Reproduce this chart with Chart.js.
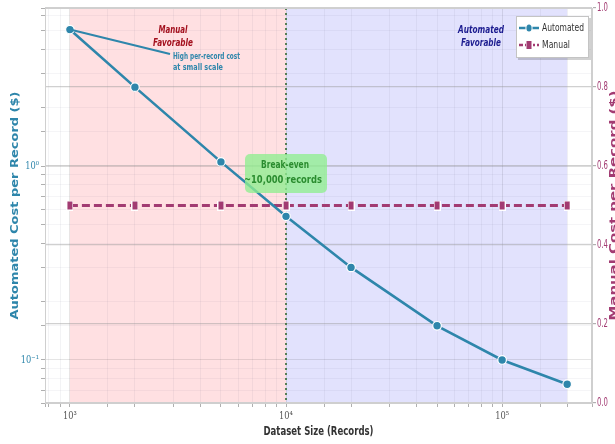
<!DOCTYPE html>
<html>
<head>
<meta charset="utf-8">
<script src="https://cdn.jsdelivr.net/npm/chart.js@4.4.1/dist/chart.umd.min.js"></script>
<style>
  html, body { margin: 0; padding: 0; background: #ffffff; }
  #wrap { width: 615px; height: 444px; }
</style>
</head>
<body>
<div id="wrap"><canvas id="chart" width="615" height="444"></canvas></div>
<script>
// Cost per record for automated vs manual processing across dataset sizes
const datasetSizes  = [1000, 2000, 5000, 10000, 20000, 50000, 100000, 200000];
const automatedCost = [5.05, 2.55, 1.05, 0.55, 0.30, 0.15, 0.10, 0.075];
const manualCost    = [0.5, 0.5, 0.5, 0.5, 0.5, 0.5, 0.5, 0.5];
const breakEvenSize = 10000;
const xTickValues   = [1000, 10000, 100000];
const xTickLabels   = ['10³', '10⁴', '10⁵'];
const yTickValues   = [1, 0.1];
const yTickLabels   = ['10⁰', '10⁻¹'];
const rightTicks    = [0.0, 0.2, 0.4, 0.6, 0.8, 1.0];

const AUTO = '#2E86AB';
const MANUAL = '#A23B72';

function isPower(v) {
  const l = Math.log10(v);
  return Math.abs(l - Math.round(l)) < 1e-6;
}

// draws text scaled horizontally by sx (or to a target width when width is given)
function drawText(ctx, text, x, y, o) {
  ctx.save();
  ctx.font = o.font;
  ctx.fillStyle = o.color;
  ctx.textBaseline = 'middle';
  ctx.textAlign = o.align || 'center';
  const w = ctx.measureText(text).width;
  const sx = o.width ? o.width / w : (o.sx || 1);
  ctx.translate(x, y);
  if (o.rot) ctx.rotate(o.rot);
  ctx.scale(sx, o.sy || 1);
  ctx.fillText(text, 0, 0);
  ctx.restore();
}

// square marker for the manual series
const squareMark = document.createElement('canvas');
squareMark.width = 7; squareMark.height = 10;
(function () {
  const g = squareMark.getContext('2d');
  g.fillStyle = '#ffffff';
  g.fillRect(0, 0, 7, 10);
  g.fillStyle = MANUAL;
  g.fillRect(1, 1, 5, 8);
})();

const decorPlugin = {
  id: 'decor',
  beforeDraw(chart) {
    const { ctx, chartArea: a, scales } = chart;
    const x = scales.x;
    const x0 = x.getPixelForValue(datasetSizes[0]);
    const xb = x.getPixelForValue(breakEvenSize);
    const x1 = x.getPixelForValue(datasetSizes[datasetSizes.length - 1]);
    ctx.save();
    ctx.fillStyle = 'rgb(255,224,226)';
    ctx.fillRect(x0, a.top, xb - x0, a.bottom - a.top);
    ctx.fillStyle = 'rgb(226,226,253)';
    ctx.fillRect(xb, a.top, x1 - xb, a.bottom - a.top);
    ctx.restore();
  },
  beforeDatasetsDraw(chart) {
    const { ctx, chartArea: a, scales } = chart;
    const xb = scales.x.getPixelForValue(breakEvenSize);
    ctx.save();
    ctx.strokeStyle = 'rgba(60,110,60,0.85)';
    ctx.lineWidth = 2;
    ctx.setLineDash([2, 3]);
    ctx.beginPath();
    ctx.moveTo(xb, a.top);
    ctx.lineTo(xb, a.bottom);
    ctx.stroke();
    ctx.restore();
  },
  afterDatasetsDraw(chart) {
    const { ctx, chartArea: a, scales } = chart;
    const x = scales.x, y = scales.y;
    const xb = x.getPixelForValue(breakEvenSize);

    // frame
    ctx.save();
    ctx.strokeStyle = '#cfcfcf';
    ctx.lineWidth = 1;
    ctx.strokeRect(a.left + 0.5, a.top + 0.5, a.right - a.left - 1, a.bottom - a.top - 1);
    ctx.restore();

    // callout pointing at the smallest dataset
    const px = x.getPixelForValue(datasetSizes[0]);
    const py = y.getPixelForValue(automatedCost[0]);
    ctx.save();
    ctx.strokeStyle = AUTO;
    ctx.lineWidth = 2;
    ctx.beginPath();
    ctx.moveTo(a.left + 125, a.top + 46);
    ctx.lineTo(px, py);
    ctx.stroke();
    ctx.restore();
    drawText(ctx, 'High per-record cost', a.left + 128, a.top + 49, { font: '600 9px "DejaVu Sans"', color: AUTO, width: 67, align: 'left' });
    drawText(ctx, 'at small scale', a.left + 128, a.top + 60, { font: '600 9px "DejaVu Sans"', color: AUTO, width: 50, align: 'left' });

    // region captions
    const cap = 'italic bold 11px "DejaVu Sans"';
    drawText(ctx, 'Manual', a.left + 128, a.top + 22, { font: cap, color: '#a3101e', width: 29 });
    drawText(ctx, 'Favorable', a.left + 128, a.top + 35, { font: cap, color: '#a3101e', width: 40 });
    drawText(ctx, 'Automated', a.left + 436, a.top + 22, { font: cap, color: '#1c1c90', width: 46 });
    drawText(ctx, 'Favorable', a.left + 436, a.top + 35, { font: cap, color: '#1c1c90', width: 40 });

    // break-even box
    const bx = xb - 41, by = a.top + 146, bw = 82, bh = 39;
    ctx.save();
    ctx.fillStyle = 'rgba(144,238,144,0.78)';
    ctx.beginPath();
    ctx.roundRect(bx, by, bw, bh, 5);
    ctx.fill();
    ctx.restore();
    drawText(ctx, 'Break-even', xb - 1, by + 11, { font: 'bold 11px "DejaVu Sans"', color: '#2a8c2f', width: 48 });
    drawText(ctx, '~10,000 records', xb - 3, by + 26, { font: 'bold 11px "DejaVu Sans"', color: '#2a8c2f', width: 78 });

    // legend
    const lx = 516, ly = 16, lw = 73, lh = 42;
    ctx.save();
    ctx.fillStyle = 'rgba(0,0,0,0.18)';
    ctx.fillRect(lx + 2, ly + 2, lw, lh);
    ctx.fillStyle = '#ffffff';
    ctx.strokeStyle = '#c4c4c4';
    ctx.lineWidth = 1;
    ctx.fillRect(lx, ly, lw, lh);
    ctx.strokeRect(lx + 0.5, ly + 0.5, lw - 1, lh - 1);
    ctx.strokeStyle = AUTO;
    ctx.lineWidth = 2.5;
    ctx.beginPath(); ctx.moveTo(lx + 3, ly + 12); ctx.lineTo(lx + 23, ly + 12); ctx.stroke();
    ctx.fillStyle = '#ffffff';
    ctx.beginPath(); ctx.ellipse(lx + 13, ly + 12, 3.6, 4.6, 0, 0, Math.PI * 2); ctx.fill();
    ctx.fillStyle = AUTO;
    ctx.beginPath(); ctx.ellipse(lx + 13, ly + 12, 2.6, 3.6, 0, 0, Math.PI * 2); ctx.fill();
    ctx.strokeStyle = MANUAL;
    ctx.setLineDash([4, 2]);
    ctx.beginPath(); ctx.moveTo(lx + 3, ly + 29); ctx.lineTo(lx + 23, ly + 29); ctx.stroke();
    ctx.setLineDash([]);
    ctx.drawImage(squareMark, lx + 13 - 3.5, ly + 29 - 5);
    ctx.restore();
    drawText(ctx, 'Automated', lx + 26, ly + 12, { font: '10px "DejaVu Sans"', color: '#333333', width: 42, align: 'left' });
    drawText(ctx, 'Manual', lx + 26, ly + 29, { font: '10px "DejaVu Sans"', color: '#333333', width: 28, align: 'left' });
  },
  afterDraw(chart) {
    const { ctx, chartArea: a, scales } = chart;

    // tick labels, placed through the scales
    const tf = '11.5px "DejaVu Serif", serif';
    xTickValues.forEach((v, i) => {
      drawText(ctx, xTickLabels[i], scales.x.getPixelForValue(v), a.bottom + 13, { font: tf, color: '#555555', sx: 0.72 });
    });
    yTickValues.forEach((v, i) => {
      drawText(ctx, yTickLabels[i], a.left - 6, scales.y.getPixelForValue(v), { font: tf, color: AUTO, sx: 0.72, align: 'right' });
    });
    rightTicks.forEach(v => {
      drawText(ctx, v.toFixed(1), a.right + 5, scales.y1.getPixelForValue(v), { font: '11.5px "DejaVu Sans"', color: MANUAL, sx: 0.6, align: 'left' });
    });

    // axis titles
    const cy = (a.top + a.bottom) / 2;
    drawText(ctx, 'Automated Cost per Record ($)', 15, cy, { font: 'bold 12px "DejaVu Sans"', color: AUTO, width: 228, sy: 0.85, rot: -Math.PI / 2 });
    drawText(ctx, 'Manual Cost per Record ($)', 614, cy, { font: 'bold 12px "DejaVu Sans"', color: MANUAL, width: 230, sy: 0.85, rot: -Math.PI / 2 });
    drawText(ctx, 'Dataset Size (Records)', (a.left + a.right) / 2, 432, { font: 'bold 12px "DejaVu Sans"', color: '#333333', width: 110 });
  }
};

new Chart(document.getElementById('chart'), {
  type: 'line',
  data: {
    datasets: [
      {
        label: 'Automated',
        data: datasetSizes.map((s, i) => ({ x: s, y: automatedCost[i] })),
        yAxisID: 'y',
        borderColor: AUTO,
        borderWidth: 2.6,
        pointRadius: 4.3,
        pointBackgroundColor: AUTO,
        pointBorderColor: '#ffffff',
        pointBorderWidth: 1.2,
        tension: 0
      },
      {
        label: 'Manual',
        data: datasetSizes.map((s, i) => ({ x: s, y: manualCost[i] })),
        yAxisID: 'y1',
        borderColor: MANUAL,
        borderWidth: 2.8,
        borderDash: [8, 4],
        pointStyle: squareMark,
        pointRadius: 5,
        tension: 0
      }
    ]
  },
  options: {
    responsive: false,
    animation: false,
    devicePixelRatio: 1,
    layout: { padding: { top: 8, left: 0, right: 0, bottom: 0 } },
    plugins: { legend: { display: false }, tooltip: { enabled: false } },
    scales: {
      x: {
        type: 'logarithmic',
        position: 'bottom',
        min: 767,
        max: 260600,
        border: { display: true, color: '#cfcfcf' },
        grid: {
          color: c => (c.tick && isPower(c.tick.value)) ? 'rgba(0,0,0,0.09)' : 'rgba(80,80,120,0.07)',
          tickColor: '#b0b0b0',
          tickLength: 4
        },
        ticks: { display: false, autoSkip: false },
        afterFit: s => { s.height = 41; }
      },
      y: {
        type: 'logarithmic',
        position: 'left',
        min: 0.0600,
        max: 6.525,
        border: { display: true, color: '#cfcfcf' },
        grid: {
          color: c => (c.tick && isPower(c.tick.value)) ? 'rgba(0,0,0,0.10)' : 'rgba(80,80,120,0.06)',
          tickColor: '#b0b0b0',
          tickLength: 4
        },
        ticks: { display: false, autoSkip: false },
        afterFit: s => { s.width = 45; }
      },
      y1: {
        type: 'linear',
        position: 'right',
        min: 0,
        max: 1,
        border: { display: true, color: '#cfcfcf' },
        grid: {
          color: 'rgba(150,150,150,0.45)',
          lineWidth: 1.2,
          tickColor: '#b0b0b0',
          tickLength: 4
        },
        afterBuildTicks: s => { s.ticks = rightTicks.map(v => ({ value: v })); },
        ticks: { display: false },
        afterFit: s => { s.width = 23; }
      }
    }
  },
  plugins: [decorPlugin]
});
</script>
</body>
</html>
